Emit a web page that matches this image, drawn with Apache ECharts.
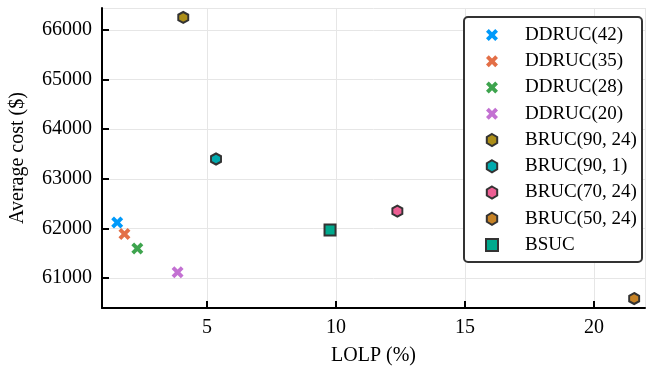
<!DOCTYPE html>
<html>
<head>
<meta charset="utf-8">
<script src="https://cdn.jsdelivr.net/npm/echarts@6/dist/echarts.min.js"></script>
<style>
  html, body { margin: 0; padding: 0; background: #fff; }
  #chart { width: 646px; height: 371px; }
</style>
</head>
<body>
<div id="chart"></div>
<script>
const seriesNames = ['DDRUC(42)', 'DDRUC(35)', 'DDRUC(28)', 'DDRUC(20)',
  'BRUC(90, 24)', 'BRUC(90, 1)', 'BRUC(70, 24)', 'BRUC(50, 24)', 'BSUC']
const lolp = [1.52, 1.80, 2.30, 3.86, 4.08, 5.35, 12.38, 21.56, 9.77]
const avgCost = [62120, 61890, 61600, 61120, 66250, 63400, 62350, 60590, 61970]
const colors = ['#009AFA', '#E36F47', '#3EA44E', '#C371D2', '#AC8E18',
  '#00AAAE', '#ED5E93', '#C68225', '#00A98D']
const markers = ['xcross', 'xcross', 'xcross', 'xcross',
  'hexagon', 'hexagon', 'hexagon', 'hexagon', 'square']

const SYMBOLS = {
  xcross: 'path://M0,2.3 L2.3,0 L5,2.7 L7.7,0 L10,2.3 L7.3,5 L10,7.7 L7.7,10 L5,7.3 L2.3,10 L0,7.7 L2.7,5 Z',
  hexagon: 'path://M5,0 L9.33,2.5 L9.33,7.5 L5,10 L0.67,7.5 L0.67,2.5 Z',
  square: 'path://M0,0 L10,0 L10,10 L0,10 Z'
}
const FONT = 'Liberation Serif'

const chart = echarts.init(document.getElementById('chart'))

const series = seriesNames.map((name, i) => {
  const m = markers[i]
  const outlined = m !== 'xcross'
  return {
    name,
    type: 'scatter',
    data: [[lolp[i], avgCost[i]]],
    symbol: SYMBOLS[m],
    symbolSize: m === 'hexagon' ? [10, 11] : (m === 'square' ? 11 : 12),
    itemStyle: {
      color: colors[i],
      opacity: 1,
      borderColor: outlined ? '#333' : null,
      borderWidth: outlined ? 2 : 0
    },
    z: 2
  }
})

chart.setOption({
  backgroundColor: '#fff',
  animation: false,
  textStyle: { fontFamily: FONT },
  grid: { left: 102, right: 1, top: 8, bottom: 61, containLabel: false },
  xAxis: {
    type: 'value',
    min: 0.93,
    max: 21.98,
    name: 'LOLP (%)',
    nameLocation: 'middle',
    nameGap: 38,
    nameTextStyle: { fontFamily: FONT, fontSize: 20, color: '#000' },
    axisLine: { onZero: false, lineStyle: { color: '#000', width: 2 } },
    axisTick: { inside: true, length: 7, lineStyle: { color: '#000', width: 2 } },
    axisLabel: { showMinLabel: false, showMaxLabel: false, margin: 10,
      fontFamily: FONT, fontSize: 20, color: '#000' },
    splitLine: { lineStyle: { color: '#e6e6e6', width: 1 } }
  },
  yAxis: {
    type: 'value',
    min: 60400,
    max: 66440,
    name: 'Average cost ($)',
    nameLocation: 'middle',
    nameGap: 74,
    nameTextStyle: { fontFamily: FONT, fontSize: 20, color: '#000' },
    axisLine: { onZero: false, lineStyle: { color: '#000', width: 2 } },
    axisTick: { inside: true, length: 7, lineStyle: { color: '#000', width: 2 } },
    axisLabel: { showMinLabel: false, showMaxLabel: false, margin: 10,
      fontFamily: FONT, fontSize: 20, color: '#000',
      formatter: v => String(v) },
    splitLine: { lineStyle: { color: '#e6e6e6', width: 1 } }
  },
  graphic: [{
    type: 'rect',
    z: 3,
    shape: { x: 464, y: 17, width: 178, height: 245, r: 4 },
    style: { fill: '#fff', stroke: '#333', lineWidth: 2 }
  }],
  legend: {
    orient: 'vertical',
    left: 485,
    top: 25,
    z: 4,
    padding: 0,
    itemGap: 6.25,
    itemWidth: 52,
    itemHeight: 12,
    data: seriesNames,
    textStyle: { fontFamily: FONT, fontSize: 19, color: '#000', lineHeight: 20,
      padding: [0, 0, 0, 2] }
  },
  series
})
</script>
</body>
</html>
